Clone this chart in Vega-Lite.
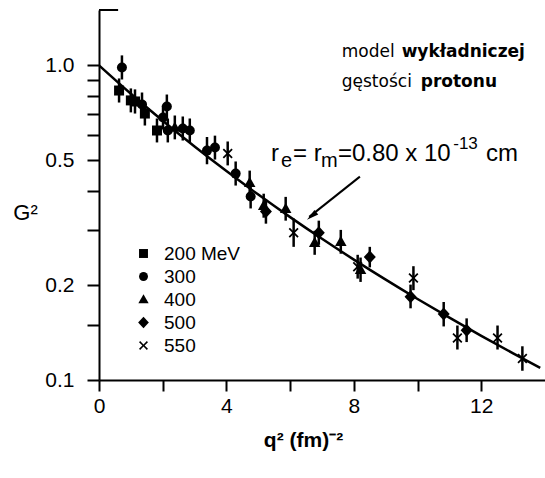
{
  "$schema": "https://vega.github.io/schema/vega-lite/v6.json",
  "autosize": "none",
  "width": 446,
  "height": 370,
  "padding": {"left": 99, "top": 10, "right": 0, "bottom": 98},
  "background": "white",
  "config": {"view": {"stroke": null}, "font": "Liberation Sans"},
  "datasets": {
    "curve": [
      {"q": 0, "g": 1.0}, {"q": 1, "g": 0.8124}, {"q": 2, "g": 0.6667}, {"q": 3, "g": 0.5523},
      {"q": 4, "g": 0.4614}, {"q": 5, "g": 0.3885}, {"q": 6, "g": 0.3294}, {"q": 7, "g": 0.2811},
      {"q": 8, "g": 0.2414}, {"q": 9, "g": 0.2084}, {"q": 10, "g": 0.1809}, {"q": 11, "g": 0.1578},
      {"q": 12, "g": 0.1382}, {"q": 13, "g": 0.1216}, {"q": 13.85, "g": 0.1093}
    ],
    "pts": [
      {"s": "200 MeV", "q": 0.63, "g": 0.832, "lo": 0.762, "hi": 0.909},
      {"s": "200 MeV", "q": 1.00, "g": 0.774, "lo": 0.709, "hi": 0.845},
      {"s": "200 MeV", "q": 1.13, "g": 0.768, "lo": 0.703, "hi": 0.839},
      {"s": "200 MeV", "q": 1.44, "g": 0.703, "lo": 0.644, "hi": 0.768},
      {"s": "200 MeV", "q": 1.82, "g": 0.621, "lo": 0.569, "hi": 0.678},
      {"s": "300", "q": 0.72, "g": 0.985, "lo": 0.902, "hi": 1.076},
      {"s": "300", "q": 1.35, "g": 0.751, "lo": 0.688, "hi": 0.820},
      {"s": "300", "q": 2.13, "g": 0.740, "lo": 0.678, "hi": 0.808},
      {"s": "300", "q": 2.01, "g": 0.683, "lo": 0.625, "hi": 0.746},
      {"s": "300", "q": 2.16, "g": 0.621, "lo": 0.569, "hi": 0.678},
      {"s": "300", "q": 2.63, "g": 0.630, "lo": 0.577, "hi": 0.688},
      {"s": "300", "q": 2.85, "g": 0.621, "lo": 0.569, "hi": 0.678},
      {"s": "300", "q": 3.39, "g": 0.536, "lo": 0.485, "hi": 0.592},
      {"s": "300", "q": 3.64, "g": 0.548, "lo": 0.502, "hi": 0.598},
      {"s": "300", "q": 4.29, "g": 0.453, "lo": 0.415, "hi": 0.495},
      {"s": "300", "q": 4.76, "g": 0.383, "lo": 0.351, "hi": 0.418},
      {"s": "400", "q": 2.38, "g": 0.635, "lo": 0.582, "hi": 0.693},
      {"s": "400", "q": 4.73, "g": 0.424, "lo": 0.388, "hi": 0.463},
      {"s": "400", "q": 5.17, "g": 0.358, "lo": 0.328, "hi": 0.391},
      {"s": "400", "q": 5.86, "g": 0.350, "lo": 0.321, "hi": 0.382},
      {"s": "400", "q": 6.77, "g": 0.273, "lo": 0.250, "hi": 0.298},
      {"s": "400", "q": 7.59, "g": 0.275, "lo": 0.252, "hi": 0.300},
      {"s": "400", "q": 8.21, "g": 0.224, "lo": 0.205, "hi": 0.245},
      {"s": "500", "q": 5.24, "g": 0.343, "lo": 0.314, "hi": 0.375},
      {"s": "500", "q": 6.90, "g": 0.294, "lo": 0.269, "hi": 0.321},
      {"s": "500", "q": 8.50, "g": 0.246, "lo": 0.228, "hi": 0.265},
      {"s": "500", "q": 9.78, "g": 0.184, "lo": 0.169, "hi": 0.201},
      {"s": "500", "q": 10.82, "g": 0.162, "lo": 0.148, "hi": 0.177},
      {"s": "500", "q": 11.54, "g": 0.144, "lo": 0.132, "hi": 0.157},
      {"s": "550", "q": 4.04, "g": 0.525, "lo": 0.481, "hi": 0.573},
      {"s": "550", "q": 6.11, "g": 0.294, "lo": 0.265, "hi": 0.326},
      {"s": "550", "q": 8.12, "g": 0.229, "lo": 0.210, "hi": 0.250},
      {"s": "550", "q": 9.87, "g": 0.211, "lo": 0.193, "hi": 0.230},
      {"s": "550", "q": 11.25, "g": 0.136, "lo": 0.125, "hi": 0.149},
      {"s": "550", "q": 12.51, "g": 0.136, "lo": 0.125, "hi": 0.149},
      {"s": "550", "q": 13.29, "g": 0.117, "lo": 0.107, "hi": 0.128}
    ]
  },
  "layer": [
    {
      "data": {"name": "curve"},
      "mark": {"type": "line", "color": "black", "strokeWidth": 2.5, "interpolate": "monotone", "clip": true},
      "encoding": {
        "x": {
          "field": "q", "type": "quantitative",
          "scale": {"domain": [0, 14], "nice": false, "zero": false},
          "axis": {
            "values": [0, 2, 4, 6, 8, 10, 12],
            "labelExpr": "datum.value % 4 === 0 ? datum.label : ''",
            "format": "d",
            "grid": false,
            "domainColor": "black", "domainWidth": 2,
            "tickColor": "black", "tickWidth": 2, "tickSize": 11,
            "labelFont": "Liberation Sans", "labelFontSize": 21, "labelColor": "black",
            "labelPadding": 4, "labelFlush": false, "labelOverlap": false,
            "title": "q² (fm)⁻²",
            "titleFont": "Liberation Sans", "titleFontSize": 21, "titleFontWeight": "bold", "titleColor": "black",
            "titleX": 204, "titleY": 60, "titleAlign": "center", "titleBaseline": "middle"
          }
        },
        "y": {
          "field": "g", "type": "quantitative",
          "scale": {"type": "log", "domain": [0.1, 1.5], "nice": false, "zero": false},
          "axis": {
            "values": [0.1, 0.15, 0.2, 0.3, 0.4, 0.5, 0.6, 0.7, 0.8, 0.9, 1.0],
            "format": ".1f",
            "labelExpr": "(datum.value == 0.1 || datum.value == 0.2 || datum.value == 0.5 || datum.value == 1) ? datum.label : ''",
            "grid": false,
            "domainColor": "black", "domainWidth": 2,
            "tickColor": "black", "tickWidth": 2, "tickSize": 12,
            "labelFont": "Liberation Sans", "labelFontSize": 21, "labelColor": "black",
            "labelPadding": 13, "labelFlush": false, "labelOverlap": false,
            "title": "G²",
            "titleFont": "Liberation Sans", "titleFontSize": 22, "titleFontWeight": "normal", "titleColor": "black",
            "titleAngle": 0, "titleX": -74, "titleY": 202, "titleAlign": "center", "titleBaseline": "middle"
          }
        }
      }
    },
    {
      "data": {"name": "pts"},
      "mark": {"type": "rule", "color": "black", "strokeWidth": 2.5},
      "encoding": {
        "x": {"field": "q", "type": "quantitative"},
        "y": {"field": "lo", "type": "quantitative"},
        "y2": {"field": "hi"}
      }
    },
    {
      "data": {"name": "pts"},
      "mark": {"type": "point", "filled": true, "color": "black", "opacity": 1, "size": 100},
      "encoding": {
        "x": {"field": "q", "type": "quantitative"},
        "y": {"field": "g", "type": "quantitative"},
        "shape": {
          "field": "s", "type": "nominal",
          "scale": {
            "domain": ["200 MeV", "300", "400", "500", "550"],
            "range": ["square", "circle", "M0,-1.2L1.15,0.85L-1.15,0.85Z", "M0,-1.3L1.2,0L0,1.3L-1.2,0Z", "M-1,-0.75L-0.75,-1L0,-0.25L0.75,-1L1,-0.75L0.25,0L1,0.75L0.75,1L0,0.25L-0.75,1L-1,0.75L-0.25,0Z"]
          },
          "legend": {
            "orient": "none", "legendX": 35, "legendY": 234,
            "title": null,
            "labelFont": "Liberation Sans", "labelFontSize": 19, "labelColor": "black",
            "symbolSize": 80, "symbolFillColor": "black", "symbolStrokeColor": "black", "symbolStrokeWidth": 0,
            "labelOffset": 11, "rowPadding": 3
          }
        }
      }
    },
    {
      "data": {"values": [{"t": "model", "q": 7.62, "g": 1.10}, {"t": "gęstości", "q": 7.62, "g": 0.883}]},
      "mark": {"type": "text", "font": "DejaVu Sans", "fontSize": 17, "align": "left", "baseline": "middle", "color": "black"},
      "encoding": {
        "x": {"field": "q", "type": "quantitative"},
        "y": {"field": "g", "type": "quantitative"},
        "text": {"field": "t"}
      }
    },
    {
      "data": {"values": [{"t": "wykładniczej", "q": 9.5, "g": 1.10}, {"t": "protonu", "q": 10.1, "g": 0.883}]},
      "mark": {"type": "text", "font": "DejaVu Sans", "fontSize": 17, "fontWeight": "bold", "align": "left", "baseline": "middle", "color": "black"},
      "encoding": {
        "x": {"field": "q", "type": "quantitative"},
        "y": {"field": "g", "type": "quantitative"},
        "text": {"field": "t"}
      }
    },
    {
      "data": {"values": [{"t": "r", "q": 5.40, "g": 0.498}, {"t": "= r", "q": 6.09, "g": 0.498}, {"t": "=0.80 x 10", "q": 7.5, "g": 0.498}, {"t": "cm", "q": 12.15, "g": 0.498}]},
      "mark": {"type": "text", "font": "Liberation Sans", "fontSize": 24, "align": "left", "baseline": "alphabetic", "color": "black"},
      "encoding": {
        "x": {"field": "q", "type": "quantitative"},
        "y": {"field": "g", "type": "quantitative"},
        "text": {"field": "t"}
      }
    },
    {
      "data": {"values": [{"t": "e", "q": 5.71, "g": 0.477}, {"t": "m", "q": 6.97, "g": 0.477}]},
      "mark": {"type": "text", "font": "Liberation Sans", "fontSize": 20, "align": "left", "baseline": "alphabetic", "color": "black"},
      "encoding": {
        "x": {"field": "q", "type": "quantitative"},
        "y": {"field": "g", "type": "quantitative"},
        "text": {"field": "t"}
      }
    },
    {
      "data": {"values": [{"t": "-13", "q": 11.12, "g": 0.544}]},
      "mark": {"type": "text", "font": "Liberation Sans", "fontSize": 17, "align": "left", "baseline": "alphabetic", "color": "black"},
      "encoding": {
        "x": {"field": "q", "type": "quantitative"},
        "y": {"field": "g", "type": "quantitative"},
        "text": {"field": "t"}
      }
    },
    {
      "data": {"values": [{"q": 8.19, "g": 0.443, "q2": 6.6, "g2": 0.33}]},
      "mark": {"type": "rule", "color": "black", "strokeWidth": 2},
      "encoding": {
        "x": {"field": "q", "type": "quantitative"},
        "y": {"field": "g", "type": "quantitative"},
        "x2": {"field": "q2"},
        "y2": {"field": "g2"}
      }
    },
    {
      "data": {"values": [{"q": 6.53, "g": 0.323}]},
      "mark": {"type": "point", "filled": true, "color": "black", "opacity": 1, "size": 144, "angle": 231, "shape": "M0,0L0.5,2L-0.5,2Z"},
      "encoding": {
        "x": {"field": "q", "type": "quantitative"},
        "y": {"field": "g", "type": "quantitative"}
      }
    },
    {
      "data": {"values": [{"q": 0, "q2": 0.6, "g": 1.5}]},
      "mark": {"type": "rule", "color": "black", "strokeWidth": 2},
      "encoding": {
        "x": {"field": "q", "type": "quantitative"},
        "x2": {"field": "q2"},
        "y": {"field": "g", "type": "quantitative"}
      }
    }
  ]
}
